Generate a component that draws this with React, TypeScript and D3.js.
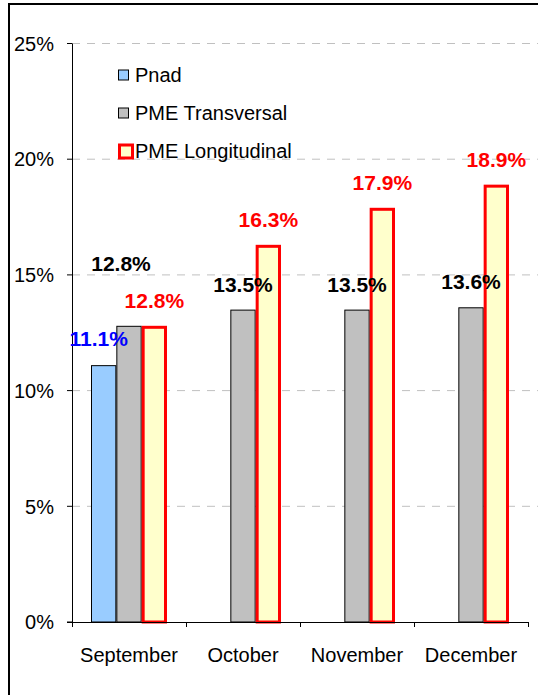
import React from 'react'
import * as d3 from 'd3'

const months = ['September', 'October', 'November', 'December']
const seriesNames = ['Pnad', 'PME Transversal', 'PME Longitudinal']
const pnad = [11.1, null, null, null]
const pmeTransversal = [12.8, 13.5, 13.5, 13.6]
const pmeLongitudinal = [12.8, 16.3, 17.9, 18.9]
const yTicks = [0, 5, 10, 15, 20, 25]

const FILLS = ['#99CCFF', '#C0C0C0', '#FFFFCC']
const STROKES = ['#000000', '#000000', '#FF0000']
const LABEL_COLORS = ['#0000FF', '#000000', '#FF0000']
// hand-moved labels (series index, month index) -> offset
const LABEL_NUDGE: Record<string, [number, number]> = {
  '0-0': [-5, -1],
  '1-0': [-8, -37]
}

const FONT = 'Arial, "Liberation Sans", sans-serif'

export default function App() {
  const W = 538
  const H = 695
  const left = 72
  const right = 528
  const top = 43.5
  const bottom = 622

  const values = [pnad, pmeTransversal, pmeLongitudinal]

  const x = d3.scaleBand().domain(months).range([left, right])
  const bw = x.bandwidth() / 4.5
  const xs = d3.scaleBand().domain(seriesNames).range([bw * 0.75, x.bandwidth() - bw * 0.75])
  const y = d3.scaleLinear().domain([0, 25]).range([bottom, top])

  return (
    <svg width={W} height={H} style={{ position: 'absolute', left: 0, top: 0 }} fontFamily={FONT}>
      <rect x={0} y={0} width={W} height={H} fill="#fff" />
      <rect x={9} y={4} width={W + 10} height={H + 10} fill="none" stroke="#000" strokeWidth={2} />

      {yTicks.slice(1).map(t => (
        <line key={'g' + t} x1={left} x2={W} y1={y(t)} y2={y(t)} stroke="#c0c0c0" strokeDasharray="8,7" />
      ))}

      {values.map((vals, si) =>
        months.map((m, mi) => {
          const v = vals[mi]
          if (v == null) return null
          const bx = (x(m) ?? 0) + (xs(seriesNames[si]) ?? 0)
          const isRed = si === 2
          const inset = isRed ? 1.5 : 0.5
          return (
            <rect
              key={`b${si}-${mi}`}
              x={bx + inset}
              y={y(v) + inset}
              width={xs.bandwidth() - inset * 2}
              height={bottom - y(v) - inset}
              fill={FILLS[si]}
              stroke={STROKES[si]}
              strokeWidth={isRed ? 3 : 1}
            />
          )
        })
      )}

      {/* axes */}
      <line x1={left + 0.5} x2={left + 0.5} y1={top} y2={bottom} stroke="#000" />
      {yTicks.map(t => (
        <g key={'t' + t}>
          <line x1={left - 5} x2={left} y1={y(t)} y2={y(t)} stroke="#000" />
          <text x={54} y={y(t)} dy="0.36em" textAnchor="end" fontSize={20} fill="#000">
            {t + '%'}
          </text>
        </g>
      ))}
      <line x1={left - 5} x2={right} y1={bottom + 0.5} y2={bottom + 0.5} stroke="#000" />
      {[...months.map(m => x(m) ?? 0), right].map((p, i) => (
        <line key={'xt' + i} x1={p + 0.5} x2={p + 0.5} y1={bottom} y2={bottom + 5} stroke="#000" />
      ))}
      {months.map(m => (
        <text key={'c' + m} x={(x(m) ?? 0) + x.bandwidth() / 2} y={662} textAnchor="middle" fontSize={20} fill="#000">
          {m}
        </text>
      ))}

      {/* data labels */}
      {values.map((vals, si) =>
        months.map((m, mi) => {
          const v = vals[mi]
          if (v == null) return null
          const cx = (x(m) ?? 0) + (xs(seriesNames[si]) ?? 0) + xs.bandwidth() / 2
          const nudge = LABEL_NUDGE[`${si}-${mi}`] ?? [0, 0]
          return (
            <text
              key={`l${si}-${mi}`}
              x={cx + nudge[0]}
              y={y(v) - 18 + nudge[1]}
              textAnchor="middle"
              fontSize={21}
              fontWeight="bold"
              fill={LABEL_COLORS[si]}
            >
              {v.toFixed(1) + '%'}
            </text>
          )
        })
      )}

      {/* legend */}
      {seriesNames.map((s, i) => {
        const ly = 75 + i * 38
        const isRed = i === 2
        return (
          <g key={'lg' + s}>
            <rect
              x={isRed ? 119.5 : 118.5}
              y={ly - 5 + (isRed ? 1 : 0)}
              width={isRed ? 13 : 10}
              height={isRed ? 13 : 10}
              fill={FILLS[i]}
              stroke={STROKES[i]}
              strokeWidth={isRed ? 3 : 1}
              transform={isRed ? 'translate(0,-2)' : undefined}
            />
            <text x={135} y={ly} dy="0.36em" fontSize={20} fill="#000">
              {s}
            </text>
          </g>
        )
      })}
    </svg>
  )
}
